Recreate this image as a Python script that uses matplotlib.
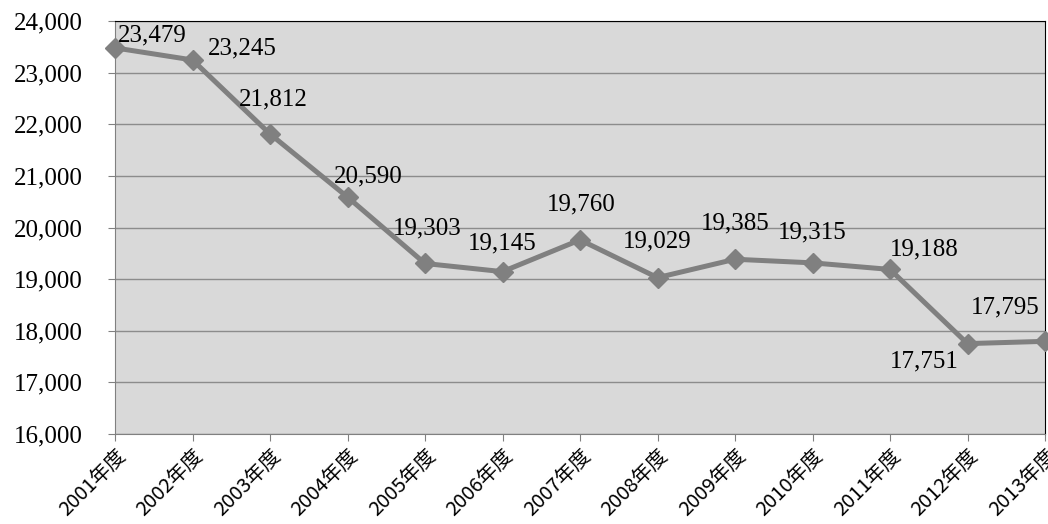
import matplotlib.pyplot as plt
from matplotlib.ticker import FuncFormatter

# data
years = ["2001年度", "2002年度", "2003年度", "2004年度", "2005年度", "2006年度", "2007年度",
         "2008年度", "2009年度", "2010年度", "2011年度", "2012年度", "2013年度"]
values = [23479, 23245, 21812, 20590, 19303, 19145, 19760, 19029, 19385, 19315, 19188, 17751, 17795]
# label offsets in pixels (dx, dy)
label_offsets = [(37, 12), (50, 12), (3, 35), (21, 21), (2, 35), (0, 28), (1, 35),
                 (0, 36), (0, 36), (0, 30), (34, 20), (-43, -18), (-40, 34)]

NUM_FONT = "Liberation Serif"
JP_FONT = ["Noto Sans CJK JP", "DejaVu Sans"]

fig = plt.figure(figsize=(10.48, 5.24), dpi=100)
ax = fig.add_axes([115 / 1048, 1 - 434 / 524, 930 / 1048, 413 / 524])
ax.set_facecolor("#d9d9d9")

x = list(range(len(years)))
ax.plot(x, values, color="#808080", lw=3.6, marker="D", markersize=10,
        markerfacecolor="#808080", markeredgecolor="#808080", zorder=3, clip_on=False)

for xi, v, (dx, dy) in zip(x, values, label_offsets):
    ax.annotate(f"{v:,}", (xi, v), xytext=(dx, dy), textcoords="offset pixels",
                ha="center", va="center", fontsize=18, family=NUM_FONT, color="black")

ax.set_xlim(0, len(years) - 1)
ax.set_ylim(16000, 24000)
ax.set_yticks(range(16000, 24001, 1000))
ax.yaxis.set_major_formatter(FuncFormatter(lambda v, p: f"{int(v):,}"))
ax.grid(axis="y", color="#8c8c8c", lw=1)
ax.set_axisbelow(True)

ax.set_xticks(x)
ax.set_xticklabels(years, rotation=45, ha="right", rotation_mode="anchor",
                   family=JP_FONT, fontsize=14.5)
for lab in ax.get_yticklabels():
    lab.set_family(NUM_FONT)
    lab.set_fontsize(18)

ax.tick_params(axis="y", length=5, pad=18, color="#808080")
ax.tick_params(axis="x", length=5, pad=3, color="#808080")
ax.spines["left"].set_color("#808080")
ax.spines["bottom"].set_color("#808080")
ax.spines["top"].set_color("black")
ax.spines["right"].set_color("black")

fig.savefig("out.png", dpi=100)
